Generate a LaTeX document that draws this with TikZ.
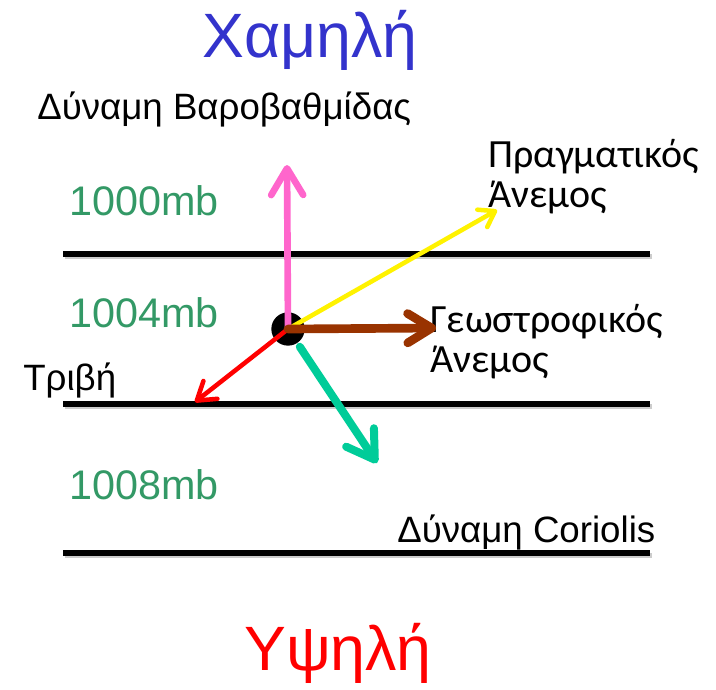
\documentclass[tikz,border=0pt]{standalone}
\usepackage{fontspec}
\setmainfont{Liberation Sans}
\newfontfamily\windfont{Carlito}
\usetikzlibrary{arrows.meta}
\definecolor{lowblue}{HTML}{3333CC}
\definecolor{mbgreen}{HTML}{339966}
\definecolor{pgfpink}{HTML}{FF66CC}
\definecolor{geobrown}{HTML}{993300}
\definecolor{corteal}{HTML}{00CC99}

\begin{document}
\begin{tikzpicture}[
  x=0.75pt, y=-0.75pt,
  isobar/.style={
    line width=3.8pt, color=black,
    preaction={draw=black!20, line width=3.8pt, transform canvas={shift={(1.5,2.5)}}}
  },
  vec/.style={
    line width=#1, line cap=round
  },
  lbl/.style={
    inner sep=0pt, anchor=base west, font=\fontsize{27.5}{30}\selectfont
  },
  mblbl/.style={
    inner sep=0pt, anchor=base west, text=mbgreen, font=\fontsize{31}{34}\selectfont
  },
  windlbl/.style={
    inner sep=0pt, anchor=base west, font=\windfont\fontsize{30}{33}\selectfont
  },
  big/.style={
    inner sep=0pt, anchor=base, font=\fontsize{47}{50}\selectfont
  }
]
\useasboundingbox (0,0) rectangle (716,689);

% Isobars
\draw[isobar] (63,254) -- (650,254);
\draw[isobar] (63,404) -- (650,404);
\draw[isobar] (63,553) -- (650,553);

% Titles
\node[big, text=lowblue] (low)  at (310,57)  {Χαμηλή};
\node[big, text=red]     (high) at (338,670) {Υψηλή};

% Pressure values
\node[mblbl] (p1000) at (69,215) {1000mb};
\node[mblbl] (p1004) at (69,327) {1004mb};
\node[mblbl] (p1008) at (69,499) {1008mb};

% Force labels
\node[lbl] (pgf)  at (37,119)  {Δύναμη Βαροβαθμίδας};
\node[lbl] (fric) at (23,390)  {Τριβή};
\node[lbl] (cor)  at (397,542) {Δύναμη Coriolis};
\node[windlbl] (real1) at (488,167) {Πραγματικός};
\node[windlbl] (real2) at (488,207) {Άνεμος};
\node[windlbl] (geo1)  at (430,332) {Γεωστροφικός};
\node[windlbl] (geo2)  at (430,372) {Άνεμος};

% Air parcel and vectors
\node[circle, fill=black, minimum size=25pt, inner sep=0pt] (O) at (288,329) {};
\coordinate (tipR) at (497,210);
\coordinate (tipP) at (287,165);
\coordinate (tipF) at (195,402);
\coordinate (tipG) at (436,328);
\coordinate (tipC) at (377,463);

\draw[vec=3.4pt, yellow, -{Straight Barb[length=11pt, width=15pt, round]}] (O.center) -- (tipR);
\draw[vec=5pt, pgfpink, -{Straight Barb[length=20pt, width=24pt, round]}] (O.center) -- (tipP);
\draw[vec=3.4pt, red, -{Straight Barb[length=13pt, width=17pt, round]}] (O.center) -- (tipF);
\draw[vec=6.5pt, geobrown, -{Straight Barb[length=18pt, width=22pt, round]}] (O.center) -- (tipG);
\draw[vec=6pt, corteal, shorten <=16pt, -{Straight Barb[length=20pt, width=25pt, round]}] (O.center) -- (tipC);

\end{tikzpicture}
\end{document}
